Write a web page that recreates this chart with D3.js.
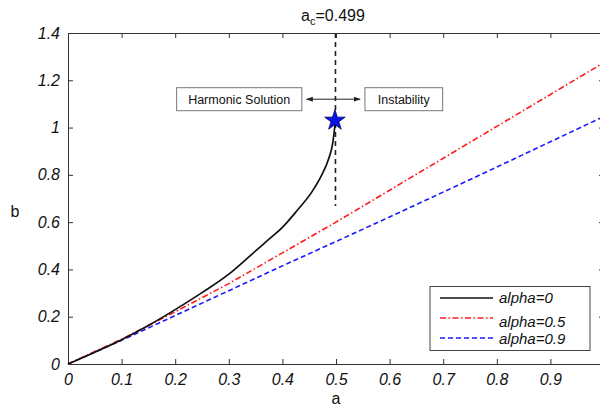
<!DOCTYPE html>
<html>
<head>
<meta charset="utf-8">
<script src="https://cdn.jsdelivr.net/npm/d3@7"></script>
<style>
  body { margin: 0; background: #fff; }
  svg { display: block; font-family: "Liberation Sans", Arial, sans-serif; }
  .tick text { font-style: italic; font-size: 16px; fill: #111; }
</style>
</head>
<body>
<svg width="600" height="411"></svg>
<script>
// data
let curveA = [0, 0.05, 0.1, 0.15, 0.2, 0.25, 0.3, 0.325, 0.35, 0.375, 0.4, 0.427, 0.455, 0.473, 0.486, 0.494, 0.499];
let curveB = [0, 0.05, 0.103, 0.163, 0.23, 0.302, 0.38, 0.428, 0.478, 0.528, 0.578, 0.648, 0.728, 0.798, 0.866, 0.935, 1.03];

let lineA = [0, 0.1, 0.2, 0.3, 0.4, 0.5, 0.6, 0.7, 0.8, 0.9, 1.0];
let redB = [0, 0.105, 0.221, 0.34, 0.47, 0.6, 0.735, 0.87, 1.005, 1.14, 1.275];
let blueB = [0, 0.1, 0.205, 0.31, 0.415, 0.518, 0.622, 0.727, 0.833, 0.94, 1.047];

let xTicks = [0, 0.1, 0.2, 0.3, 0.4, 0.5, 0.6, 0.7, 0.8, 0.9];
let yTicks = [0, 0.2, 0.4, 0.6, 0.8, 1, 1.2, 1.4];

let seriesNames = ['alpha=0', 'alpha=0.5', 'alpha=0.9'];
let aCrit = 0.499;
let starPoint = [0.498, 1.03];
let dashFrom = 0.668;

let svg = d3.select('svg');

let x = d3.scaleLinear().domain([0, 1]).range([68, 604]);
let y = d3.scaleLinear().domain([0, 1.4]).range([364, 33]);

/* Box axes, ticks inward like matlab */
let fmt = d3.format('');
svg.append('g').attr('transform', 'translate(0,' + y(0) + ')')
  .call(d3.axisBottom(x).tickValues(xTicks).tickFormat(fmt).tickSizeInner(-5).tickSizeOuter(0).tickPadding(9))
  .call(g => g.selectAll('text').attr('dy', '0.75em'));
svg.append('g').attr('transform', 'translate(' + x(0) + ',0)')
  .call(d3.axisLeft(y).tickValues(yTicks).tickFormat(fmt).tickSizeInner(-5).tickSizeOuter(0).tickPadding(8));
svg.append('g').attr('transform', 'translate(0,' + y(1.4) + ')')
  .call(d3.axisTop(x).tickValues(xTicks).tickFormat('').tickSizeInner(-5).tickSizeOuter(0));
svg.append('g').attr('transform', 'translate(' + x(1) + ',0)')
  .call(d3.axisRight(y).tickValues(yTicks).tickFormat('').tickSizeInner(-5).tickSizeOuter(0));
svg.selectAll('.domain, .tick line').attr('stroke', '#333').attr('stroke-width', 1);

/* Lines */
let line = d3.line().x(d => x(d[0])).y(d => y(d[1]));
let curve = d3.line().x(d => x(d[0])).y(d => y(d[1])).curve(d3.curveMonotoneX);

svg.append('path').datum(lineA.map((a, i) => [a, blueB[i]]))
  .attr('d', line).attr('fill', 'none').attr('stroke', '#1a1aff')
  .attr('stroke-width', 1.6).attr('stroke-dasharray', '5,3');
svg.append('path').datum(lineA.map((a, i) => [a, redB[i]]))
  .attr('d', line).attr('fill', 'none').attr('stroke', '#ff1a1a')
  .attr('stroke-width', 1.6).attr('stroke-dasharray', '6,2.5,1.5,2.5');

svg.append('line')
  .attr('x1', x(aCrit)).attr('x2', x(aCrit)).attr('y1', y(1.4)).attr('y2', y(dashFrom))
  .attr('stroke', '#222').attr('stroke-width', 1.6).attr('stroke-dasharray', '5,4');

svg.append('path').datum(curveA.map((a, i) => [a, curveB[i]]))
  .attr('d', curve).attr('fill', 'none').attr('stroke', '#111').attr('stroke-width', 1.7);

/* Star */
svg.append('path')
  .attr('d', d3.symbol(d3.symbolStar, 130)())
  .attr('transform', 'translate(' + x(starPoint[0]) + ',' + y(starPoint[1]) + ')')
  .attr('fill', '#0a14e6').attr('stroke', '#000066').attr('stroke-width', 0.8);

/* Annotation: arrows and boxes */
let defs = svg.append('defs');
defs.append('marker').attr('id', 'ah').attr('viewBox', '0 0 10 10')
  .attr('refX', 9).attr('refY', 5).attr('markerWidth', 7).attr('markerHeight', 7)
  .attr('orient', 'auto-start-reverse')
  .append('path').attr('d', 'M0,1.5L10,5L0,8.5Z').attr('fill', '#222');

let arrowY = y(1.12);
svg.append('line')
  .attr('x1', x(0.445)).attr('x2', x(0.545)).attr('y1', arrowY).attr('y2', arrowY)
  .attr('stroke', '#222').attr('stroke-width', 1)
  .attr('marker-start', 'url(#ah)').attr('marker-end', 'url(#ah)');

function labelBox(x0, x1, txt) {
  svg.append('rect').attr('x', x0).attr('y', arrowY - 11.5).attr('width', x1 - x0).attr('height', 23)
    .attr('fill', '#fff').attr('stroke', '#777').attr('stroke-width', 1);
  svg.append('text').attr('x', (x0 + x1) / 2).attr('y', arrowY + 4.5)
    .attr('text-anchor', 'middle').attr('font-size', 12.5).attr('fill', '#111').text(txt);
}
labelBox(x(0.2027), x(0.4362), 'Harmonic Solution');
labelBox(x(0.554), x(0.699), 'Instability');

/* Titles */
let title = svg.append('text').attr('x', 333).attr('y', 21).attr('text-anchor', 'middle')
  .attr('font-size', 16).attr('fill', '#111');
title.append('tspan').text('a');
title.append('tspan').attr('font-size', 11).attr('dy', 4).text('c');
title.append('tspan').attr('dy', -4).text('=' + aCrit);

svg.append('text').attr('x', x(0.5)).attr('y', 404).attr('text-anchor', 'middle')
  .attr('font-size', 16).attr('fill', '#111').text('a');
svg.append('text').attr('x', 15).attr('y', 217).attr('text-anchor', 'middle')
  .attr('font-size', 16).attr('fill', '#111').text('b');

/* Legend */
let legend = svg.append('g');
legend.append('rect').attr('x', 430).attr('y', 286.5).attr('width', 160).attr('height', 64)
  .attr('fill', '#fff').attr('stroke', '#444').attr('stroke-width', 1);
let legStyles = [
  { color: '#111', dash: null, ly: 298, ty: 303 },
  { color: '#ff1a1a', dash: '6,2.5,1.5,2.5', ly: 318, ty: 327 },
  { color: '#1a1aff', dash: '5,3', ly: 338, ty: 344 }
];
legStyles.forEach(function(s, i) {
  legend.append('line').attr('x1', 440).attr('x2', 493).attr('y1', s.ly).attr('y2', s.ly)
    .attr('stroke', s.color).attr('stroke-width', 1.6).attr('stroke-dasharray', s.dash);
  legend.append('text').attr('x', 499).attr('y', s.ty).attr('font-size', 15)
    .attr('font-style', 'italic').attr('fill', '#111').text(seriesNames[i]);
});
</script>
</body>
</html>
